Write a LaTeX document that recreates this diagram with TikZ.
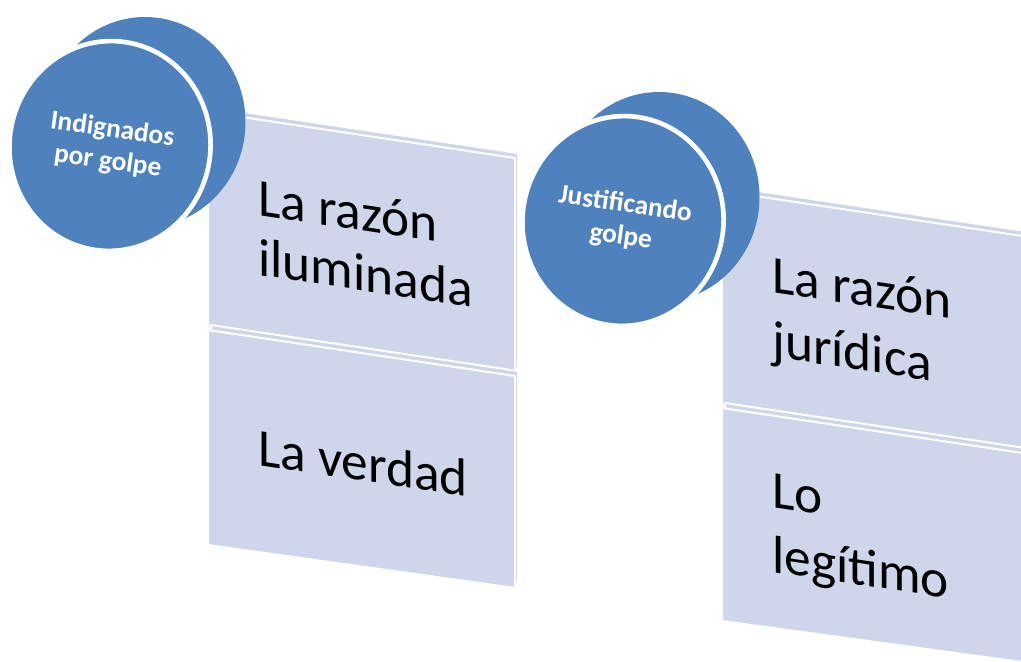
\documentclass[tikz,border=0pt]{standalone}
\usepackage{fontspec}
\setmainfont{Carlito}
\usetikzlibrary{shapes.geometric}
\definecolor{discblue}{RGB}{79,129,189}
\definecolor{panelfill}{RGB}{207,213,234}
\newcommand\stackedlines[2]{\vtop{\hbox{#1}\hbox{#2}}}
\tikzset{
  panelface/.style={fill=panelfill, draw=white, line width=1.5pt, line join=round},
  disc/.style={ellipse, fill=discblue, minimum width=150.75pt, minimum height=157.5pt, inner sep=0pt},
  frontdisc/.style={disc, draw=white, line width=3.5pt},
  disctext/.style={text=white, font=\bfseries\fontsize{20.5}{24.5}\selectfont, align=center, rotate=-8},
  paneltext/.style={font=\fontsize{40}{45}\selectfont, anchor=base west, inner sep=0pt, yslant=-0.15},
  paneltextwide/.style={paneltext, font=\fontsize{40}{48.75}\selectfont}
}
\begin{document}
\begin{tikzpicture}[x=0.75pt,y=-0.75pt]
\useasboundingbox (0,0) rectangle (1021,661);
\clip (0,0) rectangle (1021,661);
% left group panels
\path[panelface] (211,107) -- (518,153) -- (518,368) -- (211,322) -- cycle;
\path[panelface] (208,112) -- (515,158) -- (515,373) -- (208,327) -- cycle;
\path[panelface] (211,325) -- (518,371) -- (518,583) -- (211,540) -- cycle;
\path[panelface] (208,330) -- (515,376) -- (515,588) -- (208,545) -- cycle;
% right group panels
\path[panelface] (725,186) -- (1032,232) -- (1032,447) -- (725,401) -- cycle;
\path[panelface] (722,191) -- (1029,237) -- (1029,452) -- (722,406) -- cycle;
\path[panelface] (725,403) -- (1032,449) -- (1032,658) -- (725,616) -- cycle;
\path[panelface] (722,408) -- (1029,454) -- (1029,663) -- (722,621) -- cycle;
% panel texts
\node[paneltext] (t1) at (258,215) {\stackedlines{La razón}{iluminada}};
\node[paneltext] (t2) at (258,465) {La verdad};
\node[paneltextwide] (t3) at (772,292) {\stackedlines{La razón}{jurídica}};
\node[paneltextwide] (t4) at (772,507) {\stackedlines{Lo}{legítimo}};
% discs
\node[disc] (backL) at (145,122) {};
\node[frontdisc, disctext] (discL) at (110,146) {Indignados\\por golpe};
\node[disc] (backR) at (659,197) {};
\node[frontdisc, disctext] (discR) at (623,221) {Justificando\\golpe};
\end{tikzpicture}
\end{document}
